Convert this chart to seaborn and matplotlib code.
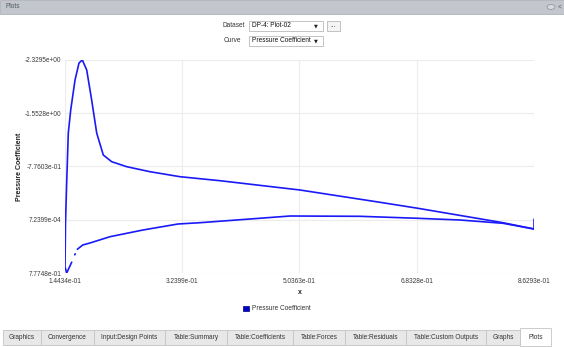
import numpy as np
import pandas as pd
import seaborn as sns
import matplotlib
matplotlib.use("Agg")
import matplotlib.pyplot as plt
from matplotlib.patches import Rectangle, Patch, Circle

# ---------------- data ----------------
# segment 1: upper surface from trailing edge to leading edge, then the stagnation dip
upper_x = [0.86293, 0.8154, 0.6852, 0.6270, 0.5044, 0.3818, 0.3205, 0.2746, 0.2389,
           0.2159, 0.2030, 0.1929, 0.1852, 0.1776, 0.1709, 0.1658, 0.1597, 0.1531,
           0.1494, 0.1469, 0.1451, 0.14434, 0.1469, 0.1505, 0.1546]
upper_cp = [0.1357, 0.0438, -0.1662, -0.2538, -0.4332, -0.5688, -0.6272, -0.7001, -0.7731,
            -0.8460, -0.9437, -1.2646, -1.7460, -2.1836, -2.3295, -2.2857, -2.0378, -1.6002,
            -1.2646, -0.5353, 0.0482, 0.6856, 0.77748, 0.7046, 0.6200]
# segment 2: isolated point near the leading edge
dot_x = [0.1593, 0.1600]
dot_cp = [0.5120, 0.4980]
# segment 3: lower surface from leading edge to trailing edge, with the closing hook
lower_x = [0.1632, 0.1715, 0.1826, 0.2133, 0.2638, 0.3175, 0.3512, 0.4278, 0.4891,
           0.5963, 0.6852, 0.7496, 0.8154, 0.86293, 0.86293]
lower_cp = [0.4318, 0.3691, 0.3399, 0.2480, 0.1503, 0.0627, 0.0438, -0.0102, -0.0539,
            -0.0495, -0.0204, 0.0044, 0.0525, 0.1357, -0.0058]

x_ticks = [0.14434, 0.32399, 0.50363, 0.68328, 0.86293]
x_tick_labels = ["1.4434e-01", "3.2399e-01", "5.0363e-01", "6.8328e-01", "8.6293e-01"]
y_ticks = [-2.3295, -1.5528, -0.77603, 0.00072399, 0.77748]
y_tick_labels = ["-2.3295e+00", "-1.5528e+00", "-7.7603e-01", "7.2399e-04", "7.7748e-01"]

tabs = ["Graphics", "Convergence", "Input:Design Points", "Table:Summary",
        "Table:Coefficients", "Table:Forces", "Table:Residuals",
        "Table:Custom Outputs", "Graphs", "Plots"]
tab_edges = [3, 41, 94, 165, 227, 293, 345, 406, 486, 520, 551]

df = pd.DataFrame({
    "x": upper_x + dot_x + lower_x,
    "cp": upper_cp + dot_cp + lower_cp,
    "seg": [1] * len(upper_x) + [2] * len(dot_x) + [3] * len(lower_x),
})

# ---------------- figure ----------------
sns.set_theme(style="white")
plt.rcParams["font.family"] = ["Liberation Sans", "DejaVu Sans"]

W, H = 564, 347
fig = plt.figure(figsize=(W / 100, H / 100), dpi=100)
fig.patch.set_facecolor("white")

def fx(x):
    return x / W

def fy(y):
    return 1 - y / H

def rect(x0, y0, x1, y1, fc, ec="none", lw=0.6, z=0):
    r = Rectangle((fx(x0), fy(y1)), fx(x1) - fx(x0), fy(y0) - fy(y1),
                  transform=fig.transFigure, facecolor=fc, edgecolor=ec, lw=lw, zorder=z)
    fig.add_artist(r)

TXT = "#333333"
FS = 4.7

# title bar
rect(0, 0, W, 14, "#c3c7cd", ec="#aeb2b8")
fig.text(fx(5), fy(7), "Plots", fontsize=FS, color="#4d5866", va="center", ha="left")
fig.add_artist(Circle((fx(551), fy(7)), 0.007, transform=fig.transFigure,
                      facecolor="#d8dadd", edgecolor="#8a8f96", lw=0.5))
fig.text(fx(560), fy(7), "<", fontsize=FS, color="#555555", va="center", ha="center")

# dataset / curve selectors
fig.text(fx(245), fy(25.5), "Dataset", fontsize=FS, color=TXT, va="center", ha="right")
rect(249, 20.5, 323, 30.5, "white", ec="#b9b9b9")
fig.text(fx(252), fy(25.5), "DP-4: Plot-02", fontsize=FS, color="#111111", va="center", ha="left")
fig.text(fx(316), fy(25.5), "▼", fontsize=3.6, color="#222222", va="center", ha="center",
         family="DejaVu Sans")
rect(327, 20.5, 340, 30.5, "#f4f4f4", ec="#b9b9b9")
fig.text(fx(333.5), fy(25.5), "...", fontsize=FS, color="#222222", va="center", ha="center")

fig.text(fx(241), fy(41), "Curve", fontsize=FS, color=TXT, va="center", ha="right")
rect(249, 36, 323, 46, "white", ec="#b9b9b9")
fig.text(fx(252), fy(41), "Pressure Coefficient", fontsize=FS, color="#111111",
         va="center", ha="left")
fig.text(fx(316), fy(41), "▼", fontsize=3.6, color="#222222", va="center", ha="center",
         family="DejaVu Sans")

# tabs
rect(0, 329, W, 347, "white")
for i, name in enumerate(tabs):
    x0, x1 = tab_edges[i], tab_edges[i + 1]
    if name == "Plots":
        rect(x0, 328, x1, 346, "white", ec="#c4c4c4")
    else:
        rect(x0, 330, x1, 345, "#e8e8e8", ec="#c4c4c4")
    fig.text(fx((x0 + x1) / 2), fy(337.5), name, fontsize=FS, color=TXT,
             va="center", ha="center")

# ---------------- plot ----------------
ax = fig.add_axes([fx(65), fy(273), fx(534) - fx(65), fy(60) - fy(273)])
ax.set_facecolor("white")
sns.lineplot(data=df, x="x", y="cp", units="seg", estimator=None, sort=False,
             color="#1a1af8", lw=1.2, ax=ax, legend=False)

ax.set_xlim(x_ticks[0], x_ticks[-1])
ax.set_ylim(y_ticks[-1], y_ticks[0])
ax.set_xticks(x_ticks)
ax.set_xticklabels(x_tick_labels)
ax.set_yticks(y_ticks)
ax.set_yticklabels(y_tick_labels)
ax.tick_params(axis="both", length=0, labelsize=FS, labelcolor="#3a3a3a")
ax.tick_params(axis="y", pad=2.5)
ax.tick_params(axis="x", pad=3.5)
ax.grid(True, color="#ececec", lw=0.8)
ax.set_axisbelow(True)
for s in ax.spines.values():
    s.set_visible(False)

ax.set_xlabel("x", fontsize=5.0, color="#222222", fontweight="bold", labelpad=3)
ax.set_ylabel("Pressure Coefficient", fontsize=5.0, color="#222222", fontweight="bold",
              labelpad=0)
ax.yaxis.set_label_coords((23 - 65) / (534 - 65), (273 - 167) / (273 - 60))

fig.legend(handles=[Patch(facecolor="#0000c8", edgecolor="#00007a", lw=0.5)],
           labels=["Pressure Coefficient"], loc="center",
           bbox_to_anchor=(fx(277), fy(309)), frameon=False, fontsize=FS,
           handlelength=0.8, handleheight=0.8, handletextpad=0.5, labelcolor="#333333")

fig.savefig("out.png", dpi=100, facecolor="white")
